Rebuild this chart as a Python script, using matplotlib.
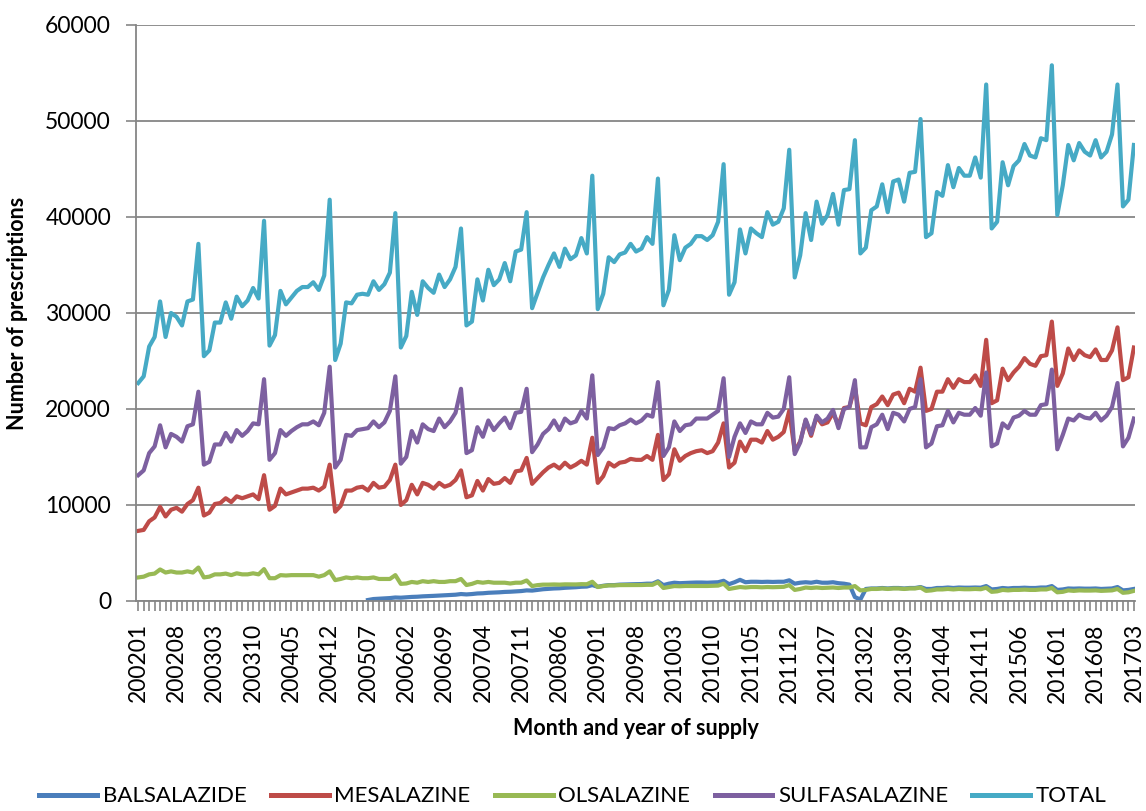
import numpy as np
import matplotlib
matplotlib.use("Agg")
import matplotlib.pyplot as plt

# month labels 200201 .. 201703
months = ["%d%02d" % (2002 + i // 12, i % 12 + 1) for i in range(183)]

nan = np.nan

balsalazide = [nan] * 42 + [
    100, 200, 230, 270, 300, 360, 340, 380, 420, 440, 480, 500, 530, 560, 580, 620, 650, 720,
    680, 720, 780, 800, 850, 870, 900, 940, 960, 1000, 1030, 1100,
    1080, 1150, 1220, 1260, 1300, 1320, 1370, 1400, 1430, 1480, 1500, 1650,
    1480, 1580, 1650, 1650, 1700, 1720, 1740, 1750, 1760, 1800, 1800, 2050,
    1650, 1800, 1900, 1850, 1880, 1900, 1920, 1920, 1900, 1930, 1950, 2100,
    1750, 1950, 2200, 1950, 2000, 2000, 1980, 2000, 1980, 2000, 2000, 2150,
    1800, 1900, 1950, 1900, 2000, 1900, 1900, 1950, 1850, 1800, 1700, 400,
    150, 1250, 1300, 1300, 1350, 1300, 1350, 1350, 1300, 1350, 1350, 1450,
    1250, 1250, 1350, 1350, 1400, 1350, 1400, 1380, 1380, 1400, 1380, 1550,
    1200, 1250, 1350, 1300, 1350, 1350, 1380, 1350, 1350, 1400, 1400, 1550,
    1150, 1200, 1300, 1280, 1300, 1280, 1280, 1300, 1250, 1280, 1300, 1450,
    1100, 1150, 1250,
]

mesalazine = [
    7300, 7400, 8300, 8700, 9800, 8800, 9500, 9700, 9300, 10100, 10500, 11800,
    8900, 9200, 10100, 10200, 10700, 10300, 10900, 10700, 10900, 11100, 10600, 13100,
    9500, 9900, 11700, 11100, 11300, 11500, 11700, 11700, 11800, 11500, 11900, 14200,
    9300, 9900, 11500, 11500, 11800, 11900, 11500, 12300, 11800, 11900, 12600, 14200,
    10000, 10500, 12100, 11100, 12300, 12100, 11700, 12300, 11900, 12100, 12600, 13600,
    10800, 11000, 12500, 11500, 12700, 12200, 12300, 12800, 12300, 13500, 13600, 14900,
    12200, 12800, 13400, 13900, 14200, 13800, 14400, 13900, 14200, 14600, 14200, 17000,
    12300, 13000, 14400, 14000, 14400, 14500, 14800, 14700, 14700, 15100, 14700, 17300,
    12600, 13200, 15800, 14600, 15100, 15400, 15600, 15700, 15400, 15600, 16500, 18500,
    13900, 14400, 16600, 15600, 16800, 16800, 16500, 17700, 16800, 17100, 17600, 19800,
    15600, 16600, 18800, 17200, 19200, 18400, 18600, 19600, 18300, 20100, 20200, 22300,
    18500, 18300, 20200, 20500, 21300, 20400, 21500, 21700, 20600, 22100, 21800, 24300,
    19800, 20000, 21800, 21800, 23100, 22200, 23100, 22800, 22800, 23500, 22400, 27200,
    20600, 20900, 24200, 23000, 23800, 24400, 25300, 24700, 24500, 25500, 25600, 29100,
    22400, 23700, 26300, 25100, 26100, 25600, 25400, 26200, 25100, 25100, 26100, 28500,
    23000, 23300, 26400,
]

olsalazine = [
    2450, 2530, 2770, 2850, 3280, 2960, 3080, 2960, 2960, 3080, 2960, 3480,
    2450, 2530, 2770, 2770, 2850, 2690, 2880, 2770, 2770, 2880, 2770, 3320,
    2370, 2370, 2690, 2650, 2690, 2690, 2690, 2690, 2690, 2530, 2690, 3080,
    2170, 2290, 2450, 2370, 2450, 2370, 2370, 2450, 2290, 2290, 2290, 2690,
    1780, 1820, 1980, 1900, 2060, 1980, 2060, 1980, 1980, 2060, 2060, 2290,
    1660, 1780, 1980, 1900, 1980, 1900, 1900, 1900, 1820, 1900, 1900, 2130,
    1550, 1650, 1700, 1700, 1720, 1700, 1730, 1720, 1720, 1750, 1740, 2000,
    1450, 1550, 1620, 1620, 1650, 1650, 1660, 1660, 1660, 1680, 1680, 1950,
    1350, 1450, 1550, 1530, 1560, 1560, 1570, 1570, 1560, 1580, 1600, 1800,
    1250, 1350, 1450, 1400, 1450, 1450, 1420, 1450, 1430, 1450, 1470, 1650,
    1150, 1250, 1400, 1350, 1400, 1350, 1380, 1400, 1350, 1400, 1400, 1550,
    1100, 1150, 1250, 1250, 1300, 1250, 1300, 1300, 1250, 1300, 1300, 1400,
    1050, 1100, 1200, 1200, 1250, 1200, 1250, 1220, 1220, 1250, 1220, 1380,
    950, 1000, 1150, 1100, 1150, 1150, 1180, 1150, 1150, 1200, 1200, 1350,
    900, 950, 1100, 1050, 1100, 1080, 1080, 1100, 1050, 1080, 1100, 1250,
    850, 900, 1050,
]

sulfasalazine = [
    13100, 13600, 15400, 16100, 18300, 16000, 17400, 17100, 16600, 18200, 18400, 21800,
    14200, 14500, 16300, 16300, 17500, 16600, 17800, 17200, 17700, 18500, 18400, 23100,
    14700, 15400, 17800, 17200, 17700, 18100, 18400, 18400, 18700, 18300, 19600, 24400,
    13900, 14700, 17300, 17200, 17800, 17900, 18000, 18700, 18100, 18600, 19800, 23400,
    14300, 15000, 17700, 16500, 18400, 17900, 17700, 19000, 18100, 18700, 19600, 22100,
    15400, 15700, 18100, 17100, 18800, 17800, 18500, 19100, 18000, 19600, 19700, 22100,
    15500, 16300, 17400, 17900, 18800, 17800, 19000, 18500, 18700, 19800, 19000, 23500,
    15200, 16000, 18000, 17900, 18300, 18500, 18900, 18500, 18800, 19400, 19200, 22800,
    15100, 16000, 18700, 17700, 18300, 18400, 19000, 19000, 19000, 19400, 19800, 23200,
    15000, 17100, 18500, 17500, 18700, 18400, 18400, 19600, 19100, 19200, 20000, 23300,
    15300, 16500, 18900, 17400, 19300, 18600, 19000, 19900, 18000, 20000, 20200, 23000,
    16000, 16000, 18100, 18400, 19400, 17900, 19600, 19400, 18700, 20000, 20200, 23100,
    16000, 16400, 18200, 18300, 19800, 18600, 19600, 19400, 19400, 20100, 19300, 23800,
    16100, 16400, 18500, 18000, 19100, 19300, 19800, 19400, 19400, 20400, 20500, 24100,
    15800, 17300, 19000, 18800, 19400, 19100, 19000, 19600, 18800, 19300, 20200, 22700,
    16100, 17000, 19000,
]

total = [
    22700, 23400, 26500, 27500, 31200, 27500, 30000, 29600, 28700, 31200, 31400, 37200,
    25500, 26100, 29000, 29000, 31100, 29400, 31700, 30700, 31300, 32600, 31500, 39600,
    26600, 27700, 32300, 30900, 31600, 32300, 32700, 32700, 33200, 32400, 33900, 41800,
    25100, 26800, 31100, 31000, 31900, 32000, 31900, 33300, 32400, 33000, 34200, 40400,
    26400, 27600, 32200, 29800, 33300, 32600, 32100, 34000, 32700, 33500, 34800, 38800,
    28700, 29100, 33500, 31300, 34500, 32900, 33500, 35200, 33300, 36400, 36600, 40500,
    30500, 32100, 33700, 35000, 36200, 34800, 36700, 35600, 36000, 37800, 36200, 44300,
    30400, 32000, 35800, 35300, 36100, 36300, 37200, 36400, 36700, 37900, 37200, 44000,
    30800, 32400, 38100, 35500, 36800, 37200, 38000, 38000, 37600, 38100, 39500, 45500,
    31900, 33200, 38700, 36200, 38800, 38300, 37900, 40500, 39200, 39500, 40900, 47000,
    33700, 36000, 40400, 37600, 41600, 39300, 40200, 42400, 39200, 42800, 42900, 48000,
    36200, 36800, 40700, 41100, 43400, 40500, 43700, 43900, 41600, 44600, 44700, 50200,
    37900, 38300, 42600, 42200, 45400, 43100, 45100, 44300, 44300, 46200, 44100, 53800,
    38800, 39500, 45700, 43300, 45300, 45900, 47600, 46400, 46200, 48200, 48000, 55800,
    40200, 43300, 47500, 45900, 47700, 46800, 46400, 48000, 46200, 46800, 48600, 53800,
    41100, 41800, 47500,
]

series = [
    ("BALSALAZIDE", balsalazide, "#4A7EBB"),
    ("MESALAZINE", mesalazine, "#BE4B48"),
    ("OLSALAZINE", olsalazine, "#98B954"),
    ("SULFASALAZINE", sulfasalazine, "#7D60A0"),
    ("TOTAL", total, "#46AAC5"),
]

plt.rcParams["font.family"] = ["Lato", "DejaVu Sans"]

fig = plt.figure(figsize=(11.46, 8.11), dpi=100)
# plot area: x 136..1135 px, y 25..601 px
ax = fig.add_axes([0.1187, 0.259, 0.8717, 0.7102])

x = np.arange(len(months))
for name, vals, col in series:
    ax.plot(x, vals, color=col, lw=3.0, label=name, solid_joinstyle="round")

grid_col = "#868686"
ax.set_ylim(0, 60000)
ax.set_yticks(range(0, 60001, 10000))
ax.yaxis.grid(True, color=grid_col, lw=1.3)
ax.set_axisbelow(True)
ax.set_xlim(-0.4, 182.2)
ax.set_xticks(x[::7])
ax.set_xticklabels(months[::7], rotation=90)
ax.set_xticks(x, minor=True)

for s in ("top", "right"):
    ax.spines[s].set_visible(False)
for s in ("left", "bottom"):
    ax.spines[s].set_color(grid_col)
    ax.spines[s].set_linewidth(1.3)
ax.tick_params(axis="both", which="both", color=grid_col, direction="out", labelsize=16.5, width=1.2)
ax.tick_params(axis="x", which="both", length=7, pad=9)
ax.tick_params(axis="y", length=7, pad=11)

ax.set_ylabel("Number of prescriptions", fontsize=15.5, fontweight="bold")
ax.yaxis.set_label_coords(-0.108, 0.5)
ax.set_xlabel("Month and year of supply", fontsize=15.5, fontweight="bold", va="top")
ax.xaxis.set_label_coords(0.5, -0.203)

fig.legend(loc="lower center", bbox_to_anchor=(0.5, -0.008), ncol=5, frameon=False,
           fontsize=16, handlelength=2.6, columnspacing=1.1, handletextpad=0.25,
           borderpad=0)
for ln in fig.legends[0].get_lines():
    ln.set_linewidth(3.6)

fig.savefig("out.png", dpi=100)
